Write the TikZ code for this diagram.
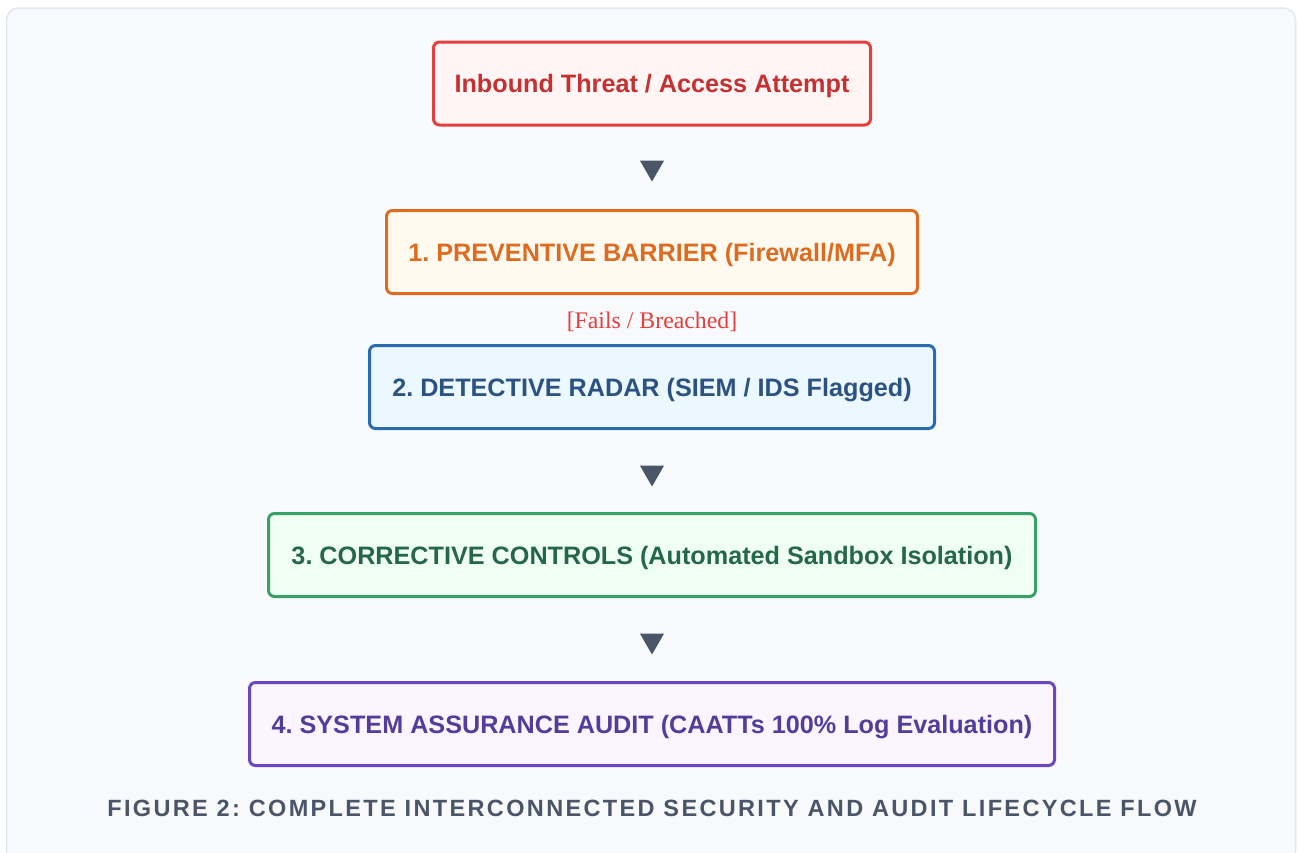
\documentclass[tikz,border=0pt]{standalone}
\usepackage{fontspec}
\setmainfont{Liberation Sans}
\newfontfamily\serifrm{Liberation Serif}
\newfontfamily\capfont[LetterSpace=10]{Liberation Sans Bold}
\frenchspacing
\definecolor{pagebg}{HTML}{F8F9FB}
\definecolor{pageframe}{HTML}{E2E8F0}
\definecolor{arrowcol}{HTML}{4A5568}
\definecolor{redline}{HTML}{E53E3E}\definecolor{redfill}{HTML}{FFF5F5}\definecolor{redtext}{HTML}{C53030}
\definecolor{orline}{HTML}{DD6B20}\definecolor{orfill}{HTML}{FFFAF0}\definecolor{ortext}{HTML}{DD6B20}
\definecolor{blline}{HTML}{2B6CB0}\definecolor{blfill}{HTML}{EBF8FF}\definecolor{bltext}{HTML}{2C5282}
\definecolor{grline}{HTML}{38A169}\definecolor{grfill}{HTML}{F0FFF4}\definecolor{grtext}{HTML}{276749}
\definecolor{puline}{HTML}{6B46C1}\definecolor{pufill}{HTML}{FAF5FF}\definecolor{putext}{HTML}{553C9A}
\tikzset{
  stagebox/.style={draw, line width=3pt, rounded corners=6pt, minimum height=83pt,
    font=\fontsize{25.2}{30}\selectfont\bfseries, inner sep=0pt, align=center,
    text height=18pt, text depth=0pt},
  flowtri/.style={fill=arrowcol, isosceles triangle, isosceles triangle apex angle=60,
    shape border rotate=-90, minimum height=21pt, inner sep=0pt},
}
\usetikzlibrary{shapes.geometric}
\begin{document}
\begin{tikzpicture}[x=1pt,y=-1pt]
\useasboundingbox (0,0) rectangle (1298,852);
\fill[white] (0,0) rectangle (1298,852);
\draw[pageframe, fill=pagebg, line width=1.5pt, rounded corners=12pt] (6.5,8) rectangle (1295.5,880);
\node[stagebox, draw=redline, fill=redfill, text=redtext, minimum width=437pt] (threat) at (652,83.5) {Inbound Threat / Access Attempt};
\node[flowtri] (t1) at (652,167.5) {};
\node[stagebox, draw=orline, fill=orfill, text=ortext, minimum width=531pt] (prev) at (652,252) {1. PREVENTIVE BARRIER (Firewall/MFA)};
\node[font=\fontsize{23.8}{28}\serifrm, text=redline, text height=16pt, text depth=0pt, inner sep=0pt] (fail) at (652,320) {[Fails / Breached]};
\node[stagebox, draw=blline, fill=blfill, text=bltext, minimum width=565pt] (detect) at (652,387) {2. DETECTIVE RADAR (SIEM / IDS Flagged)};
\node[flowtri] (t2) at (652,472.5) {};
\node[stagebox, draw=grline, fill=grfill, text=grtext, minimum width=767pt] (correct) at (652,555) {3. CORRECTIVE CONTROLS (Automated Sandbox Isolation)};
\node[flowtri] (t3) at (652,640.5) {};
\node[stagebox, draw=puline, fill=pufill, text=putext, minimum width=805pt] (audit) at (652,724) {4. SYSTEM ASSURANCE AUDIT (CAATTs 100\% Log Evaluation)};
\node[font=\fontsize{23.5}{28}\capfont, text=arrowcol, text height=17pt, text depth=0pt, inner sep=0pt] (caption) at (652,808) {FIGURE 2: COMPLETE INTERCONNECTED SECURITY AND AUDIT LIFECYCLE FLOW};
\end{tikzpicture}
\end{document}
